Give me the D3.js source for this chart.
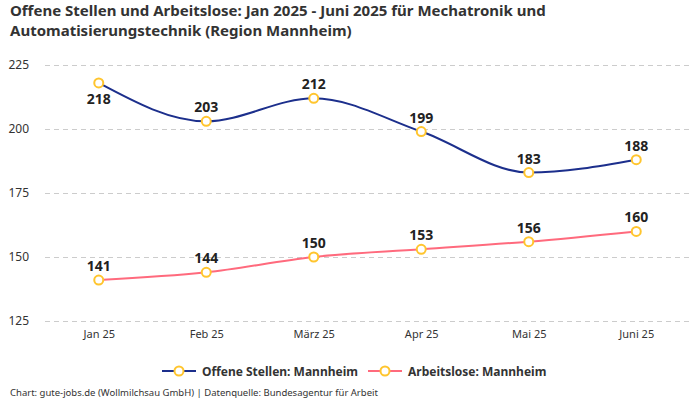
<!DOCTYPE html>
<html>
<head>
<meta charset="utf-8">
<script src="https://cdn.jsdelivr.net/npm/d3@7"></script>
<style>
  body { margin: 0; background: #fff; }
  text { font-family: "Noto Sans", sans-serif; }
</style>
</head>
<body>
<div class="chart"></div>
<script>
var months = ["Jan 25", "Feb 25", "März 25", "Apr 25", "Mai 25", "Juni 25"];
var offeneStellen = [218, 203, 212, 199, 183, 188];
var arbeitslose = [141, 144, 150, 153, 156, 160];
var yTicks = [125, 150, 175, 200, 225];

var series = [
  { name: "Offene Stellen: Mannheim", values: offeneStellen, color: "#1c2f8c" },
  { name: "Arbeitslose: Mannheim", values: arbeitslose, color: "#ff6a7d" }
];

var fullWidth = 700, fullHeight = 400;
var margin = { top: 65, right: 10, bottom: 79, left: 45 };
var width = fullWidth - margin.left - margin.right;
var height = fullHeight - margin.top - margin.bottom;

var svg = d3
  .select(".chart")
  .append("svg")
  .attr("width", fullWidth)
  .attr("height", fullHeight);

svg.append("text")
  .attr("x", 10).attr("y", 16)
  .style("font-size", "15px").style("font-weight", "bold").style("fill", "#333")
  .text("Offene Stellen und Arbeitslose: Jan 2025 - Juni 2025 für Mechatronik und");
svg.append("text")
  .attr("x", 10).attr("y", 36)
  .style("font-size", "15px").style("font-weight", "bold").style("fill", "#333")
  .text("Automatisierungstechnik (Region Mannheim)");

var g = svg.append("g")
  .attr("transform", `translate(${margin.left}, ${margin.top})`);

var xScale = d3.scalePoint().domain(months).range([0, width]).padding(0.5);
var yScale = d3.scaleLinear().domain([125, 225]).range([height, 0]);

// grid + y labels
var yAxis = d3.axisLeft(yScale).tickValues(yTicks).tickSize(-width).tickPadding(16);
g.append("g")
  .call(yAxis)
  .call(a => a.select(".domain").remove())
  .call(a => a.selectAll("line").attr("stroke", "#ccc").attr("stroke-dasharray", "5,4"))
  .call(a => a.selectAll("text").style("font-size", "12px").style("fill", "#333")
    .style("font-family", "Noto Sans, sans-serif"));

var xAxis = d3.axisBottom(xScale).tickSize(0).tickPadding(9);
g.append("g")
  .attr("transform", `translate(0, ${height})`)
  .call(xAxis)
  .call(a => a.select(".domain").remove())
  .call(a => a.selectAll("text").style("font-size", "11px").style("fill", "#333")
    .style("font-family", "Noto Sans, sans-serif"));

var line = d3.line()
  .x((d, i) => xScale(months[i]))
  .y(d => yScale(d))
  .curve(d3.curveMonotoneX);

series.forEach(function (s, si) {
  g.append("path")
    .datum(s.values)
    .attr("fill", "none")
    .attr("stroke", s.color)
    .attr("stroke-width", 2)
    .attr("d", line);

  g.selectAll(".pt" + si)
    .data(s.values)
    .enter()
    .append("circle")
    .attr("cx", (d, i) => xScale(months[i]))
    .attr("cy", d => yScale(d))
    .attr("r", 4.5)
    .attr("fill", "#fff")
    .attr("stroke", "#ffc52e")
    .attr("stroke-width", 2);

  g.selectAll(".lbl" + si)
    .data(s.values)
    .enter()
    .append("text")
    .attr("x", (d, i) => xScale(months[i]))
    .attr("y", (d, i) => yScale(d) + (si === 0 && i === 0 ? 21 : -9))
    .attr("text-anchor", "middle")
    .style("font-size", "14px")
    .style("font-weight", "bold")
    .style("fill", "#222")
    .text(d => d);
});

// legend
var legend = svg.append("g").attr("transform", "translate(162, 371)");
var lx = [0, 206];
series.forEach(function (s, i) {
  var item = legend.append("g").attr("transform", `translate(${lx[i]}, 0)`);
  item.append("line").attr("x1", 0).attr("x2", 34).attr("y1", 0).attr("y2", 0)
    .attr("stroke", s.color).attr("stroke-width", 2);
  item.append("circle").attr("cx", 17).attr("cy", 0).attr("r", 4.5)
    .attr("fill", "#fff").attr("stroke", "#ffc52e").attr("stroke-width", 2);
  item.append("text").attr("x", 40).attr("y", 4.5)
    .style("font-size", "12px").style("font-weight", "bold").style("fill", "#333")
    .text(s.name);
});

svg.append("text")
  .attr("x", 10).attr("y", 396)
  .style("font-size", "9.5px").style("fill", "#333")
  .text("Chart: gute-jobs.de (Wollmilchsau GmbH) | Datenquelle: Bundesagentur für Arbeit");
</script>
</body>
</html>
